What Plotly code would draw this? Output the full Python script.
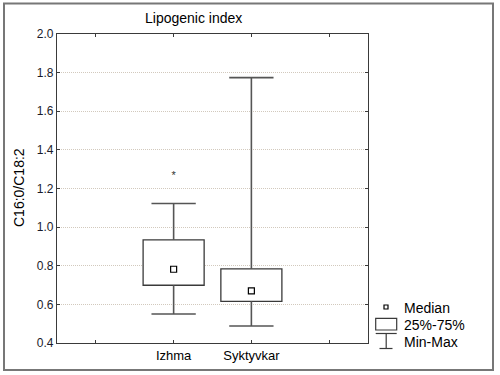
import plotly.graph_objects as go

# ---- data ----
categories = ["Izhma", "Syktyvkar"]
x_ticklabels = ["", "Izhma", "Syktyvkar", ""]
minimum = [0.550, 0.488]
q1 = [0.699, 0.616]
median = [0.782, 0.670]
q3 = [0.934, 0.784]
maximum = [1.122, 1.774]
outlier_x = ["Izhma"]
outlier_y = [1.263]

W, H = 500, 375
L, R, T, B = 57, 132, 34, 32
PW, PH = W - L - R, H - T - B
pos = {c: i + 1 for i, c in enumerate(categories)}
xs = [pos[c] for c in categories]
FONT = "Arial, Liberation Sans, sans-serif"
LC = "#3a3a3a"

fig = go.Figure()

# boxes (25%-75%)
fig.add_trace(go.Bar(
    x=xs, base=q1, y=[b - a for a, b in zip(q1, q3)], width=0.785,
    marker=dict(color="white", line=dict(color=LC, width=1.3)),
    showlegend=False, hoverinfo="skip"))

# whiskers
cap = 0.285
wx, wy = [], []
for i, x in enumerate(xs):
    wx += [x, x, None, x, x, None, x - cap, x + cap, None, x - cap, x + cap, None]
    wy += [q3[i], maximum[i], None, q1[i], minimum[i], None,
           maximum[i], maximum[i], None, minimum[i], minimum[i], None]
fig.add_trace(go.Scatter(x=wx, y=wy, mode="lines",
                         line=dict(color="#555555", width=1.6),
                         showlegend=False, hoverinfo="skip"))

# medians
fig.add_trace(go.Scatter(x=xs, y=median, mode="markers",
                         marker=dict(symbol="square", size=6, color="white",
                                     line=dict(color="black", width=1.2)),
                         showlegend=False))

# outliers
fig.add_trace(go.Scatter(x=[pos[c] for c in outlier_x], y=outlier_y, mode="text",
                         text=["*"] * len(outlier_y), textposition="middle center",
                         textfont=dict(family=FONT, size=11, color="#333"),
                         showlegend=False))


def px(x):
    return (x - L) / PW


def py(y):
    return (H - B - y) / PH


shapes = [
    # outer frame
    dict(type="rect", xref="paper", yref="paper", x0=px(4), x1=px(493), y0=py(370), y1=py(3.5),
         line=dict(color="#777777", width=2), layer="below"),
    # legend box
    dict(type="rect", xref="paper", yref="paper", x0=px(375.7), x1=px(396.7), y0=py(330), y1=py(318.3),
         line=dict(color=LC, width=1.2), fillcolor="white"),
    # legend whisker
    dict(type="line", xref="paper", yref="paper", x0=px(375.7), x1=px(396.7), y0=py(333.5), y1=py(333.5),
         line=dict(color=LC, width=1.2)),
    dict(type="line", xref="paper", yref="paper", x0=px(386.2), x1=px(386.2), y0=py(333.5), y1=py(348.5),
         line=dict(color=LC, width=1.2)),
    dict(type="line", xref="paper", yref="paper", x0=px(379.5), x1=px(392.5), y0=py(348.5), y1=py(348.5),
         line=dict(color=LC, width=1.2)),
    # legend median marker
    dict(type="rect", xref="paper", yref="paper", x0=px(384), x1=px(388), y0=py(309), y1=py(305),
         line=dict(color="black", width=1.2), fillcolor="white"),
]

annotations = [
    dict(text="Lipogenic index", xref="paper", yref="paper", x=px(193), y=py(18),
         xanchor="center", yanchor="middle", showarrow=False,
         font=dict(family=FONT, size=14, color="black")),
    dict(text="C16:0/C18:2", xref="paper", yref="paper", x=px(19), y=py(188),
         xanchor="center", yanchor="middle", showarrow=False, textangle=-90,
         font=dict(family=FONT, size=14, color="black")),
]
for txt, yy in [("Median", 307.5), ("25%-75%", 324.5), ("Min-Max", 341.5)]:
    annotations.append(dict(text=txt, xref="paper", yref="paper", x=px(402.5), y=py(yy),
                            xanchor="left", yanchor="middle", showarrow=False,
                            font=dict(family=FONT, size=14, color="black")))

fig.update_layout(
    width=W, height=H, autosize=False,
    margin=dict(l=L, r=R, t=T, b=B, pad=0),
    paper_bgcolor="white", plot_bgcolor="white",
    showlegend=False, barmode="overlay",
    shapes=shapes, annotations=annotations,
    xaxis=dict(range=[-0.5, 3.5], tickvals=[0, 1, 2, 3], ticktext=x_ticklabels,
               ticks="inside", ticklen=3, tickcolor=LC, showline=True, linecolor=LC,
               linewidth=1.3, mirror="ticks", showgrid=False, zeroline=False,
               tickfont=dict(family=FONT, size=13, color="black")),
    yaxis=dict(range=[0.4, 2.0], dtick=0.2, tickformat=".1f",
               ticks="inside", ticklen=3, tickcolor=LC, showline=True, linecolor=LC,
               linewidth=1.3, mirror="ticks", showgrid=True, gridcolor="#d2c9bd",
               griddash="1px,1px", gridwidth=1, zeroline=False,
               tickfont=dict(family=FONT, size=12, color="#1a1a2a")),
)

fig.write_html("out.html", config={"displayModeBar": False},
               post_script="document.body.style.margin='0';")
